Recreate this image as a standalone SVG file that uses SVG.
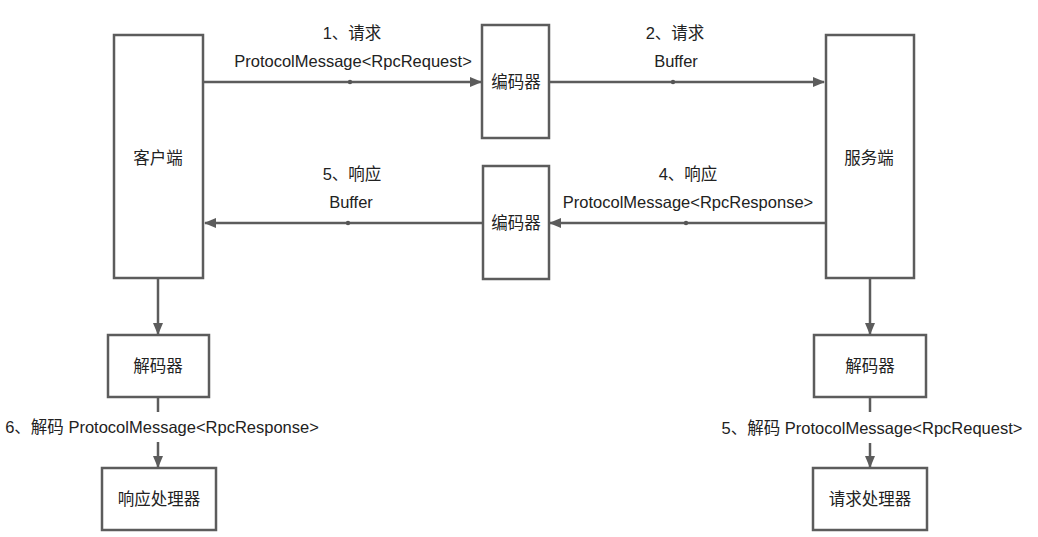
<svg xmlns="http://www.w3.org/2000/svg" width="1038" height="537" viewBox="0 0 1038 537">
<defs>
<style>
.box{fill:#fff;stroke:#5c5c5c;stroke-width:2.5}
.ln{stroke:#5c5c5c;stroke-width:2.5;fill:none}
.t{font-family:"Liberation Sans","Noto Sans CJK SC",sans-serif;font-size:16.5px;fill:#222;text-anchor:middle;dominant-baseline:central}
.dot{fill:#555}
</style>
<marker id="ah" viewBox="0 0 12 10" refX="11" refY="5" markerWidth="12" markerHeight="10" markerUnits="userSpaceOnUse" orient="auto">
<path d="M0,0 L12,5 L0,10 Z" fill="#5c5c5c"/>
</marker>
</defs>
<rect width="1038" height="537" fill="#fff"/>
<g id="connectors">
<line class="ln" x1="204" y1="82" x2="481" y2="82" marker-end="url(#ah)"/>
<circle class="dot" cx="350" cy="82" r="2.2"/>
<text class="t" x="352" y="33">1、请求</text>
<text class="t" x="353" y="61">ProtocolMessage&lt;RpcRequest&gt;</text>
<line class="ln" x1="550" y1="82" x2="824" y2="82" marker-end="url(#ah)"/>
<circle class="dot" cx="673" cy="82" r="2.2"/>
<text class="t" x="675" y="33">2、请求</text>
<text class="t" x="676" y="61">Buffer</text>
<line class="ln" x1="825" y1="223" x2="550" y2="223" marker-end="url(#ah)"/>
<circle class="dot" cx="686" cy="223" r="2.2"/>
<text class="t" x="688" y="174">4、响应</text>
<text class="t" x="688" y="202">ProtocolMessage&lt;RpcResponse&gt;</text>
<line class="ln" x1="482" y1="223" x2="205" y2="223" marker-end="url(#ah)"/>
<circle class="dot" cx="348" cy="223" r="2.2"/>
<text class="t" x="352" y="174">5、响应</text>
<text class="t" x="351" y="202">Buffer</text>
<line class="ln" x1="158" y1="279" x2="158" y2="334" marker-end="url(#ah)"/>
<line class="ln" x1="158" y1="397" x2="158" y2="412"/>
<text class="t" x="162" y="427">6、解码 ProtocolMessage&lt;RpcResponse&gt;</text>
<line class="ln" x1="158" y1="442" x2="158" y2="467" marker-end="url(#ah)"/>
<line class="ln" x1="870" y1="279" x2="870" y2="334" marker-end="url(#ah)"/>
<line class="ln" x1="870" y1="397" x2="870" y2="412"/>
<text class="t" x="872" y="428">5、解码 ProtocolMessage&lt;RpcRequest&gt;</text>
<line class="ln" x1="870" y1="443" x2="870" y2="467" marker-end="url(#ah)"/>
</g>
<g id="client"><rect class="box" x="114" y="35" width="89" height="243"/><text class="t" x="158" y="158">客户端</text></g>
<g id="encoder1"><rect class="box" x="482" y="25" width="67" height="113"/><text class="t" x="516" y="82">编码器</text></g>
<g id="server"><rect class="box" x="826" y="35" width="88" height="243"/><text class="t" x="869" y="158">服务端</text></g>
<g id="encoder2"><rect class="box" x="483" y="166" width="66" height="113"/><text class="t" x="516" y="223">编码器</text></g>
<g id="decoder-left"><rect class="box" x="108" y="335" width="101" height="62"/><text class="t" x="158" y="366">解码器</text></g>
<g id="response-handler"><rect class="box" x="102" y="468" width="114" height="62"/><text class="t" x="159" y="499">响应处理器</text></g>
<g id="decoder-right"><rect class="box" x="814" y="335" width="112" height="62"/><text class="t" x="870" y="366">解码器</text></g>
<g id="request-handler"><rect class="box" x="813" y="468" width="114" height="62"/><text class="t" x="870" y="499">请求处理器</text></g>
</svg>
